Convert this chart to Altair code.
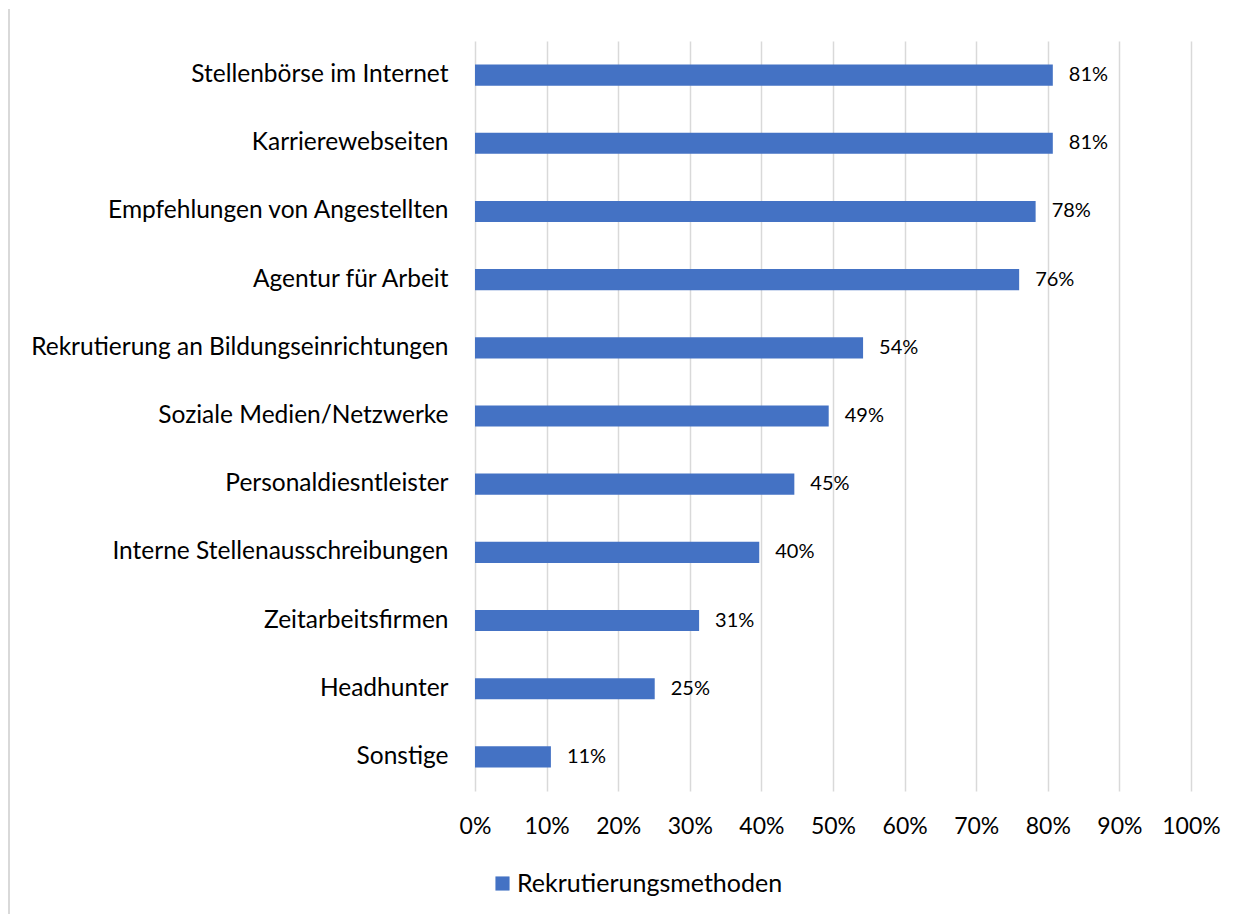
import altair as alt
import pandas as pd

categories = [
    "Stellenbörse im Internet",
    "Karrierewebseiten",
    "Empfehlungen von Angestellten",
    "Agentur für Arbeit",
    "Rekrutierung an Bildungseinrichtungen",
    "Soziale Medien/Netzwerke",
    "Personaldiesntleister",
    "Interne Stellenausschreibungen",
    "Zeitarbeitsfirmen",
    "Headhunter",
    "Sonstige",
]
values = [0.807, 0.807, 0.783, 0.760, 0.542, 0.494, 0.446, 0.397, 0.313, 0.251, 0.106]
series_name = "Rekrutierungsmethoden"

df = pd.DataFrame({"Kategorie": categories, "Wert": values, "Serie": series_name})

FONT = "Lato"
W, H = 716, 750

y_enc = alt.Y("Kategorie:N", sort=categories, title=None,
              scale=alt.Scale(paddingInner=0.69, paddingOuter=0.345),
              axis=alt.Axis(domain=False, ticks=False, labelFontSize=24.5, labelFont=FONT,
                            labelColor="#000000", labelPadding=27, labelLimit=600, grid=False))
x_enc = alt.X("Wert:Q", title=None,
              scale=alt.Scale(domain=[0, 1], nice=False),
              axis=alt.Axis(format=".0%", values=[i / 10 for i in range(11)], domain=False,
                            ticks=False, grid=True, gridColor="#d9d9d9", gridWidth=1.5,
                            labelFontSize=23, labelFont=FONT, labelColor="#000000",
                            labelPadding=24, labelFlush=False))

bars = alt.Chart(df).mark_bar(color="#4472C4").encode(
    x=x_enc,
    y=y_enc,
    color=alt.Color("Serie:N", title=None,
                    scale=alt.Scale(domain=[series_name], range=["#4472C4"]),
                    legend=alt.Legend(orient="none", legendX=15, legendY=830,
                                      symbolType="square", symbolSize=200,
                                      symbolStrokeWidth=0, labelFontSize=25,
                                      labelFont=FONT, labelColor="#000000",
                                      labelLimit=600, labelOffset=2,
                                      direction="horizontal")),
)

texts = alt.Chart(df).mark_text(align="left", baseline="middle", dx=16, fontSize=20,
                                font=FONT, color="#000000").encode(
    x="Wert:Q",
    y=alt.Y("Kategorie:N", sort=categories),
    text=alt.Text("Wert:Q", format=".0%"),
)

border = alt.Chart(pd.DataFrame({"a": [0]})).mark_rule(color="#d9d9d9", strokeWidth=2).encode(
    x=alt.value(-466), y=alt.value(-32), y2=alt.value(H + 140)
)

chart = alt.layer(bars, texts, border).properties(
    width=W, height=H, padding={"left": 0, "top": 0, "right": 5, "bottom": 0}
).configure(background="#ffffff").configure_view(stroke=None)

chart.save("out.html", embed_options={"renderer": "svg", "actions": False})
